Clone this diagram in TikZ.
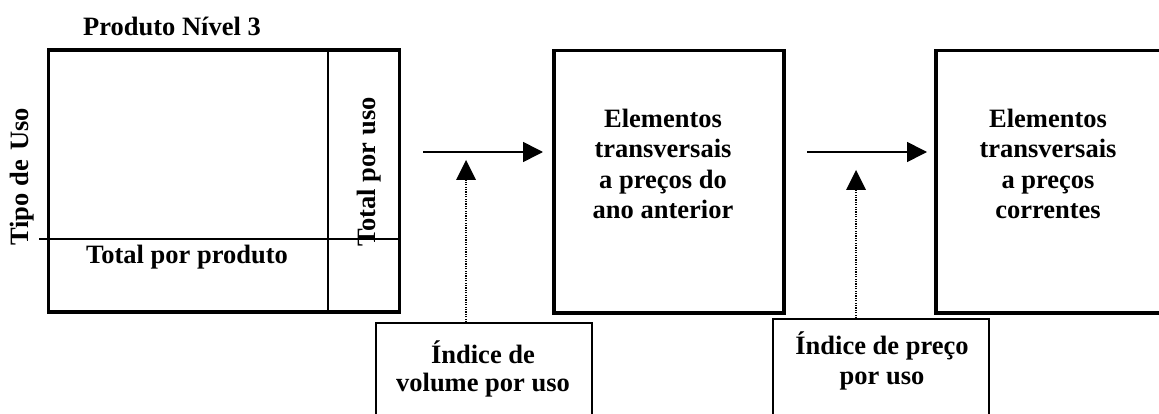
\documentclass[tikz,border=0pt]{standalone}
\usepackage{fontspec}
\setmainfont{Liberation Serif}
\usetikzlibrary{arrows.meta}
\begin{document}
\begin{tikzpicture}[x=1pt,y=-1pt,
  thickbox/.style={draw,line width=3.6pt,inner sep=0pt},
  idxbox/.style={draw,line width=1.6pt,inner sep=0pt},
  lbl/.style={font=\fontsize{26.5}{30.5}\selectfont\bfseries,inner sep=0pt,align=center},
  flow/.style={line width=1.6pt,-{Triangle[length=20pt,width=20pt]}},
  idxflow/.style={line width=1.2pt,dash pattern=on 1.2pt off 1.2pt,-{Triangle[length=20pt,width=20pt,line width=0pt]}}]
\useasboundingbox (0,0) rectangle (1159,414);
% boxes
\node[thickbox,minimum width=351pt,minimum height=261.5pt] (mat) at (224,181) {};
\node[thickbox,minimum width=230pt,minimum height=262.5pt] (prev) at (669,181.75) {};
\node[thickbox,minimum width=239pt,minimum height=262.5pt] (curr) at (1055.5,181.75) {};
\node[idxbox,minimum width=216pt,minimum height=117pt] (vol) at (484,381.5) {};
\node[idxbox,minimum width=216pt,minimum height=121pt] (prc) at (881,379.5) {};
% inner lines of the matrix
\coordinate (hl) at (39,239);
\draw[line width=1.5pt] (328,50.3) -- (328,312);
\draw[line width=1.5pt] (hl) -- (399,239);
% texts
\node[lbl] (t0) at (172,26) {Produto Nível 3};
\node[lbl,rotate=90] (t1) at (22,177) {Tipo de\hspace{0.1em} Uso};
\node[lbl,rotate=90] (t2) at (369,172) {Total por uso};
\node[lbl] (t3) at (187,257) {Total por produto};
\node[lbl] (t4) at (663,164) {Elementos\\transversais\\a preços do\\ano anterior};
\node[lbl] (t5) at (1048,164) {Elementos\\transversais\\a preços\\correntes};
\node[lbl,font=\fontsize{26.5}{28.5}\selectfont\bfseries] (t6) at (483,369) {Índice de\\volume por uso};
\node[lbl] (t7) at (882,361) {Índice de preço\\por uso};
% arrows
\coordinate (a1s) at (423,152);
\coordinate (a1e) at (543,152);
\coordinate (a2s) at (807,152);
\coordinate (a2e) at (927,152);
\coordinate (d1e) at (466,160);
\coordinate (d2e) at (856,170);
\draw[flow] (a1s) -- (a1e);
\draw[flow] (a2s) -- (a2e);
\draw[idxflow] (vol.north -| d1e) -- (d1e);
\draw[idxflow] (prc.north -| d2e) -- (d2e);
\end{tikzpicture}
\end{document}
